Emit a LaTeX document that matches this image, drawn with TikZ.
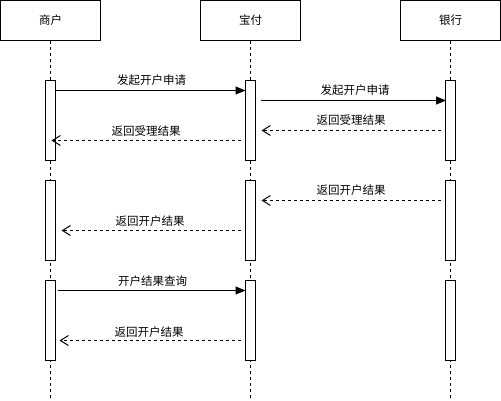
\documentclass[tikz,border=0pt]{standalone}
\usepackage{fontspec}
\setmainfont{Noto Sans CJK SC}
\usetikzlibrary{arrows.meta}
\tikzset{
  actor/.style={draw, line width=1pt, fill=white, minimum width=100pt, minimum height=40pt, inner sep=0pt, font=\fontsize{11.5}{13}\selectfont},
  bar/.style={draw, line width=1pt, fill=white, minimum width=10pt, minimum height=80pt, inner sep=0pt},
  life/.style={line width=1pt, dash pattern=on 3pt off 3pt},
  syncmsg/.style={line width=1pt, -{Triangle[length=10pt,width=8pt]}},
  retmsg/.style={line width=1pt, dash pattern=on 3pt off 3pt, -{Straight Barb[length=8pt,width=10pt,line width=1pt]}},
  lbl/.style={font=\fontsize{11.5}{13}\selectfont, inner sep=0pt}
}
\begin{document}
\begin{tikzpicture}[x=1pt,y=-1pt]
\useasboundingbox (0,0) rectangle (501,401);
% actors
\node[actor] (A) at (50.5,20.5) {商户};
\node[actor] (B) at (250.5,20.5) {宝付};
\node[actor] (C) at (450.5,20.5) {银行};
% lifeline ends
\coordinate (Ae) at (50.5,400);
\coordinate (Be) at (250.5,400);
\coordinate (Ce) at (450.5,400);
\draw[life] (A.south) -- (Ae);
\draw[life] (B.south) -- (Be);
\draw[life] (C.south) -- (Ce);
% activation bars
\foreach \n/\x in {A/50.5,B/250.5,C/450.5}{
  \node[bar] (\n1) at (\x,120.5) {};
  \node[bar] (\n2) at (\x,220.5) {};
  \node[bar] (\n3) at (\x,320.5) {};
}
% message endpoints
\coordinate (m1s) at (55.5,90.5);   \coordinate (m1e) at (245.5,90.5);
\coordinate (m2s) at (260.5,100.5); \coordinate (m2e) at (446,100.5);
\coordinate (m3s) at (440.5,130.5); \coordinate (m3e) at (261.5,130.5);
\coordinate (m4s) at (240.5,140.5); \coordinate (m4e) at (51.5,140.5);
\coordinate (m5s) at (440.5,200.5); \coordinate (m5e) at (261.5,200.5);
\coordinate (m6s) at (240.5,230.5); \coordinate (m6e) at (61.5,230.5);
\coordinate (m7s) at (57.5,290.5);  \coordinate (m7e) at (245.5,290.5);
\coordinate (m8s) at (240.5,340.5); \coordinate (m8e) at (59.5,340.5);
% messages
\draw[syncmsg] (m1s) -- (m1e);
\draw[syncmsg] (m2s) -- (m2e);
\draw[retmsg] (m3s) -- (m3e);
\draw[retmsg] (m4s) -- (m4e);
\draw[retmsg] (m5s) -- (m5e);
\draw[retmsg] (m6s) -- (m6e);
\draw[syncmsg] (m7s) -- (m7e);
\draw[retmsg] (m8s) -- (m8e);
% labels
\node[lbl] (l1) at (151.5,80.5) {发起开户申请};
\node[lbl] (l2) at (355,90.5) {发起开户申请};
\node[lbl] (l3) at (351,120.5) {返回受理结果};
\node[lbl] (l4) at (146,131) {返回受理结果};
\node[lbl] (l5) at (351,190.5) {返回开户结果};
\node[lbl] (l6) at (150,221) {返回开户结果};
\node[lbl] (l7) at (152.5,281) {开户结果查询};
\node[lbl] (l8) at (149,332) {返回开户结果};
\end{tikzpicture}
\end{document}
